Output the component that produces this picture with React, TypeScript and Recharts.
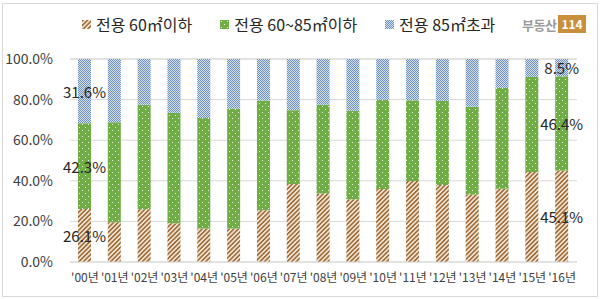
import React from 'react';
import { BarChart, Bar, XAxis, YAxis, CartesianGrid } from 'recharts';

const years = ["'00년", "'01년", "'02년", "'03년", "'04년", "'05년", "'06년", "'07년", "'08년", "'09년", "'10년", "'11년", "'12년", "'13년", "'14년", "'15년", "'16년"];
// 전용 60㎡이하
const small = [26.1, 19.6, 26.0, 19.1, 16.5, 16.5, 25.5, 38.4, 33.7, 30.9, 35.9, 39.9, 37.9, 33.3, 36.1, 44.3, 45.1];
// 전용 60~85㎡이하
const mid = [42.3, 49.2, 51.5, 54.4, 54.4, 59.1, 54.1, 36.4, 43.8, 43.6, 44.0, 39.8, 41.5, 43.2, 49.7, 46.9, 46.4];
// 전용 85㎡초과
const large = [31.6, 31.2, 22.5, 26.5, 29.1, 24.4, 20.4, 25.2, 22.5, 25.5, 20.1, 20.3, 20.6, 23.5, 14.2, 8.8, 8.5];
const yTicks = [0, 20, 40, 60, 80, 100];
const labelledIdx = [0, 16];

const data = years.map((y, i) => ({ year: y, small: small[i], mid: mid[i], large: large[i] }));

const FONT = '"Noto Sans CJK KR", "Noto Sans", sans-serif';

const Patterns = ({ prefix }: { prefix: string }) => (
  <defs>
    <pattern id={`${prefix}-hatch`} width="3.2" height="3.2" patternUnits="userSpaceOnUse" patternTransform="rotate(45)">
      <rect width="3.2" height="3.2" fill="#f6ecdd" />
      <rect width="1.7" height="3.2" fill="#a06d3a" />
    </pattern>
    <pattern id={`${prefix}-dots`} width="6" height="6" patternUnits="userSpaceOnUse">
      <rect width="6" height="6" fill="#70ad47" />
      <rect x="1" y="1" width="1" height="1" fill="#e8f3df" />
      <rect x="4" y="4" width="1" height="1" fill="#e8f3df" />
    </pattern>
    <pattern id={`${prefix}-check`} width="2" height="2" patternUnits="userSpaceOnUse">
      <rect width="2" height="2" fill="#d6e1f0" />
      <rect width="1" height="1" fill="#6d8fc0" />
      <rect x="1" y="1" width="1" height="1" fill="#6d8fc0" />
    </pattern>
  </defs>
);

const makeLabel = (values: number[]) => (props: any) => {
  const { x, y, width, height, index } = props;
  if (!labelledIdx.includes(index)) return null;
  return (
    <text
      x={x + width / 2}
      y={y + height / 2}
      textAnchor="middle"
      dominantBaseline="central"
      fontSize={15}
      fill="#262626"
      fontFamily={FONT}
    >
      {values[index].toFixed(1)}%
    </text>
  );
};

const Swatch = ({ id }: { id: string }) => (
  <svg width="9" height="9" style={{ marginRight: 5 }}>
    <Patterns prefix="lg" />
    <rect width="9" height="9" fill={`url(#lg-${id})`} />
  </svg>
);

const legendItems = [
  { id: 'hatch', text: '전용 60㎡이하' },
  { id: 'dots', text: '전용 60~85㎡이하' },
  { id: 'check', text: '전용 85㎡초과' },
];

export default function App() {
  return (
    <div style={{ position: 'absolute', left: 0, top: 0, width: 600, height: 299, background: '#fff', fontFamily: FONT }}>
      <div style={{ position: 'absolute', left: 2, top: 3, width: 594, height: 292, border: '1px solid #d9d9d9' }} />
      <div style={{ position: 'absolute', left: 82, top: 12, height: 24, display: 'flex', alignItems: 'center', fontSize: 16, color: '#262626' }}>
        {legendItems.map((it, i) => (
          <div key={it.id} style={{ display: 'flex', alignItems: 'center', marginRight: i < 2 ? 28 : 0 }}>
            <Swatch id={it.id} />
            <span>{it.text}</span>
          </div>
        ))}
      </div>
      <div style={{ position: 'absolute', left: 522, top: 14, height: 20, display: 'flex', alignItems: 'center' }}>
        <span style={{ color: '#9a9a9a', fontWeight: 700, fontSize: 13, letterSpacing: -0.5 }}>부동산</span>
        <span style={{ background: '#c98f3c', color: '#fff', fontWeight: 700, fontSize: 12, padding: '1px 3px', marginLeft: 2, lineHeight: '16px' }}>114</span>
      </div>
      <div style={{ position: 'absolute', left: 0, top: 0 }}>
        <BarChart
          width={600}
          height={299}
          data={data}
          margin={{ top: 59, right: 23, left: 0, bottom: 7 }}
          barSize={13}
        >
          <Patterns prefix="ch" />
          <CartesianGrid vertical={false} stroke="#d9d9d9" />
          <XAxis
            dataKey="year"
            tickLine={false}
            axisLine={{ stroke: '#d9d9d9' }}
            tick={{ fontSize: 12, fill: '#404040', fontFamily: FONT }}
            tickMargin={5}
            height={30}
            interval={0}
          />
          <YAxis
            domain={[0, 100]}
            ticks={yTicks}
            tickFormatter={(v: number) => `${v.toFixed(1)}%`}
            tickLine={false}
            axisLine={false}
            width={70}
            tickMargin={11}
            tick={{ fontSize: 14, fill: '#404040', fontFamily: FONT }}
          />
          <Bar dataKey="small" stackId="a" fill="url(#ch-hatch)" isAnimationActive={false} label={makeLabel(small)} />
          <Bar dataKey="mid" stackId="a" fill="url(#ch-dots)" isAnimationActive={false} label={makeLabel(mid)} />
          <Bar dataKey="large" stackId="a" fill="url(#ch-check)" isAnimationActive={false} label={makeLabel(large)} />
        </BarChart>
      </div>
    </div>
  );
}
